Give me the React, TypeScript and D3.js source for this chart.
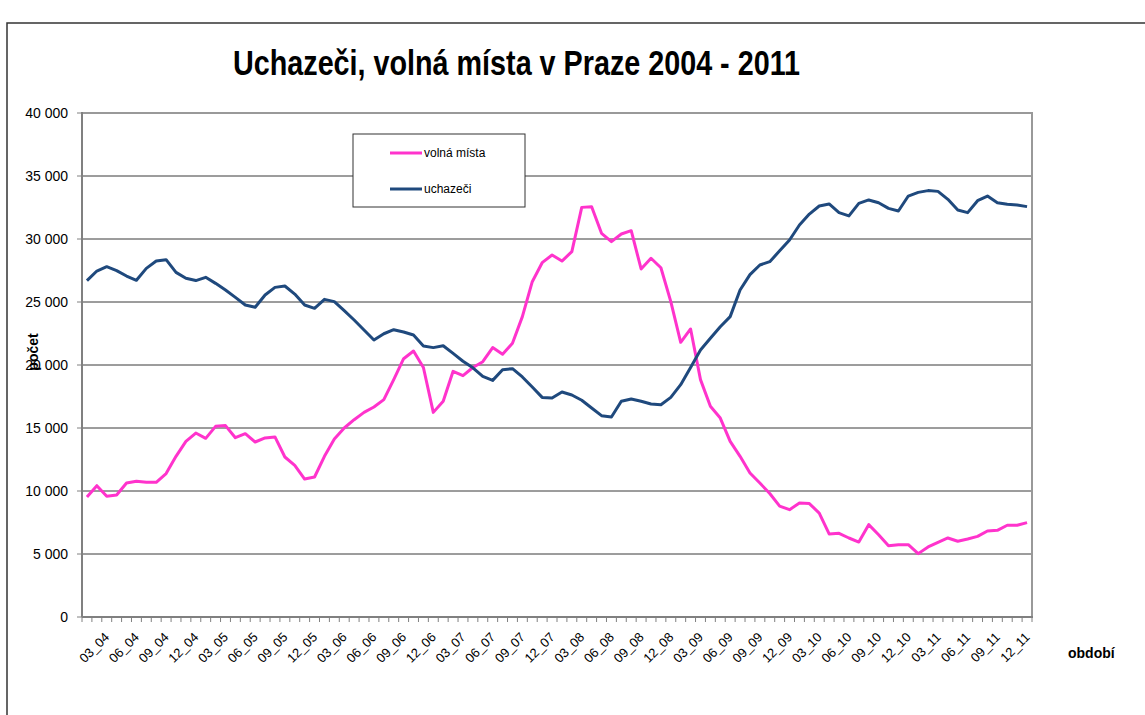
import React from "react";
import * as d3 from "d3";

// monthly periods 01_04 .. 12_11
const periods = [
  "01_04", "02_04", "03_04", "04_04", "05_04", "06_04", "07_04", "08_04", "09_04", "10_04", "11_04", "12_04",
  "01_05", "02_05", "03_05", "04_05", "05_05", "06_05", "07_05", "08_05", "09_05", "10_05", "11_05", "12_05",
  "01_06", "02_06", "03_06", "04_06", "05_06", "06_06", "07_06", "08_06", "09_06", "10_06", "11_06", "12_06",
  "01_07", "02_07", "03_07", "04_07", "05_07", "06_07", "07_07", "08_07", "09_07", "10_07", "11_07", "12_07",
  "01_08", "02_08", "03_08", "04_08", "05_08", "06_08", "07_08", "08_08", "09_08", "10_08", "11_08", "12_08",
  "01_09", "02_09", "03_09", "04_09", "05_09", "06_09", "07_09", "08_09", "09_09", "10_09", "11_09", "12_09",
  "01_10", "02_10", "03_10", "04_10", "05_10", "06_10", "07_10", "08_10", "09_10", "10_10", "11_10", "12_10",
  "01_11", "02_11", "03_11", "04_11", "05_11", "06_11", "07_11", "08_11", "09_11", "10_11", "11_11", "12_11",
];

const shownLabels = ["03", "06", "09", "12"];

const volnaMista = [
  9520, 10420, 9580, 9680, 10630, 10770, 10690, 10690, 11380, 12750, 13940, 14600,
  14180, 15130, 15190, 14230, 14550, 13890, 14210, 14290, 12700, 12040, 10950, 11110,
  12750, 14130, 15000, 15660, 16240, 16670, 17250, 18840, 20500, 21110, 19800, 16240,
  17120, 19500, 19150, 19800, 20260, 21380, 20850, 21720, 23840, 26610, 28120, 28730,
  28250, 29000, 32510, 32560, 30450, 29790, 30400, 30660, 27620, 28470, 27720, 25030,
  21800, 22860, 18840, 16720, 15790, 13940, 12750, 11430, 10630, 9800, 8800, 8520,
  9050, 9000, 8250, 6590, 6640, 6270, 5950, 7330, 6530, 5660, 5740, 5740,
  5030, 5560, 5930, 6270, 6010, 6190, 6400, 6830, 6880, 7280, 7280, 7490,
];

const uchazeci = [
  26700, 27460, 27800, 27490, 27060, 26720, 27670, 28250, 28360, 27350, 26880, 26700,
  26960, 26480, 25950, 25370, 24760, 24580, 25560, 26160, 26270, 25630, 24760, 24500,
  25210, 25030, 24310, 23570, 22780, 21980, 22480, 22800, 22620, 22380, 21510, 21380,
  21530, 20920, 20300, 19780, 19100, 18780, 19630, 19710, 19050, 18250, 17430, 17380,
  17860, 17620, 17200, 16590, 15980, 15870, 17120, 17300, 17120, 16900, 16850, 17430,
  18440, 19800, 21190, 22120, 23040, 23840, 25950, 27170, 27940, 28200, 29060, 29920,
  31110, 31980, 32620, 32780, 32090, 31830, 32830, 33100, 32880, 32430, 32220, 33410,
  33700, 33840, 33780, 33150, 32300, 32090, 33040, 33410, 32880, 32750, 32700, 32570,
];

const yTicks = [0, 5000, 10000, 15000, 20000, 25000, 30000, 35000, 40000];

const series = [
  { name: "volná místa", values: volnaMista, color: "#FF33CC" },
  { name: "uchazeči", values: uchazeci, color: "#1F497D" },
];

const font = "'Liberation Sans', Arial, sans-serif";

export default function App() {
  const left = 82, right = 1032, top = 113, bottom = 617;
  const x = d3.scaleBand<string>().domain(periods).range([left, right]).padding(0);
  const y = d3.scaleLinear().domain([0, 40000]).range([bottom, top]);
  const cx = (p: string) => (x(p) as number) + x.bandwidth() / 2;
  const fmt = (v: number) => d3.format(",")(v).replace(/,/g, " ");

  const line = d3
    .line<number>()
    .x((_, i) => cx(periods[i]))
    .y((d) => y(d));

  const boundaries = periods.map((p) => x(p) as number).concat([right]);

  return (
    <svg
      width={1145}
      height={715}
      style={{ position: "absolute", left: 0, top: 0, background: "#fff" }}
      fontFamily={font}
    >
      {/* outer frame */}
      <path d="M7,715 V23 H1145" fill="none" stroke="#333" strokeWidth={1.5} />

      <text
        x={233}
        y={75}
        fontSize={35}
        fontWeight="bold"
        textLength={567}
        lengthAdjust="spacingAndGlyphs"
      >
        Uchazeči, volná místa v Praze 2004 - 2011
      </text>

      {/* gridlines */}
      {yTicks.slice(1, -1).map((t) => (
        <line key={t} x1={left} x2={right} y1={y(t)} y2={y(t)} stroke="#3a3a3a" strokeWidth={1} />
      ))}

      {/* plot border top/right */}
      <path d={`M${left},${top} H${right} V${bottom}`} fill="none" stroke="#999" strokeWidth={2} />

      {/* y axis */}
      <line x1={left} x2={left} y1={top - 1} y2={bottom} stroke="#808080" strokeWidth={2} />
      {yTicks.map((t) => (
        <g key={t}>
          <line x1={left - 5} x2={left} y1={y(t)} y2={y(t)} stroke="#808080" strokeWidth={1} />
          <text x={68} y={y(t)} dy="0.35em" textAnchor="end" fontSize={14} fill="#000">
            {fmt(t)}
          </text>
        </g>
      ))}
      <text
        transform={`translate(38,352) rotate(-90)`}
        textAnchor="middle"
        fontSize={14}
        fontWeight="bold"
      >
        počet
      </text>

      {/* x axis */}
      <line x1={left} x2={right + 1} y1={bottom} y2={bottom} stroke="#808080" strokeWidth={2} />
      {boundaries.map((b, i) => (
        <line key={i} x1={b} x2={b} y1={bottom} y2={bottom + 5} stroke="#808080" strokeWidth={1} />
      ))}
      {periods
        .filter((p) => shownLabels.includes(p.slice(0, 2)))
        .map((p) => (
          <text
            key={p}
            transform={`translate(${cx(p) + 3.5},638) rotate(-45)`}
            textAnchor="end"
            fontSize={13}
          >
            {p}
          </text>
        ))}
      <text x={1068} y={658} fontSize={14} fontWeight="bold">
        období
      </text>

      {/* lines */}
      {series.map((s) => (
        <path
          key={s.name}
          d={line(s.values) || ""}
          fill="none"
          stroke={s.color}
          strokeWidth={3}
          strokeLinejoin="round"
        />
      ))}

      {/* legend */}
      <rect x={353} y={134} width={172} height={73} fill="#fff" stroke="#333" strokeWidth={1} />
      {series.map((s, i) => (
        <g key={s.name} transform={`translate(390,${153 + i * 36})`}>
          <line x1={0} x2={32} y1={0} y2={0} stroke={s.color} strokeWidth={3} />
          <text x={34} y={0} dy="0.35em" fontSize={12}>
            {s.name}
          </text>
        </g>
      ))}
    </svg>
  );
}
